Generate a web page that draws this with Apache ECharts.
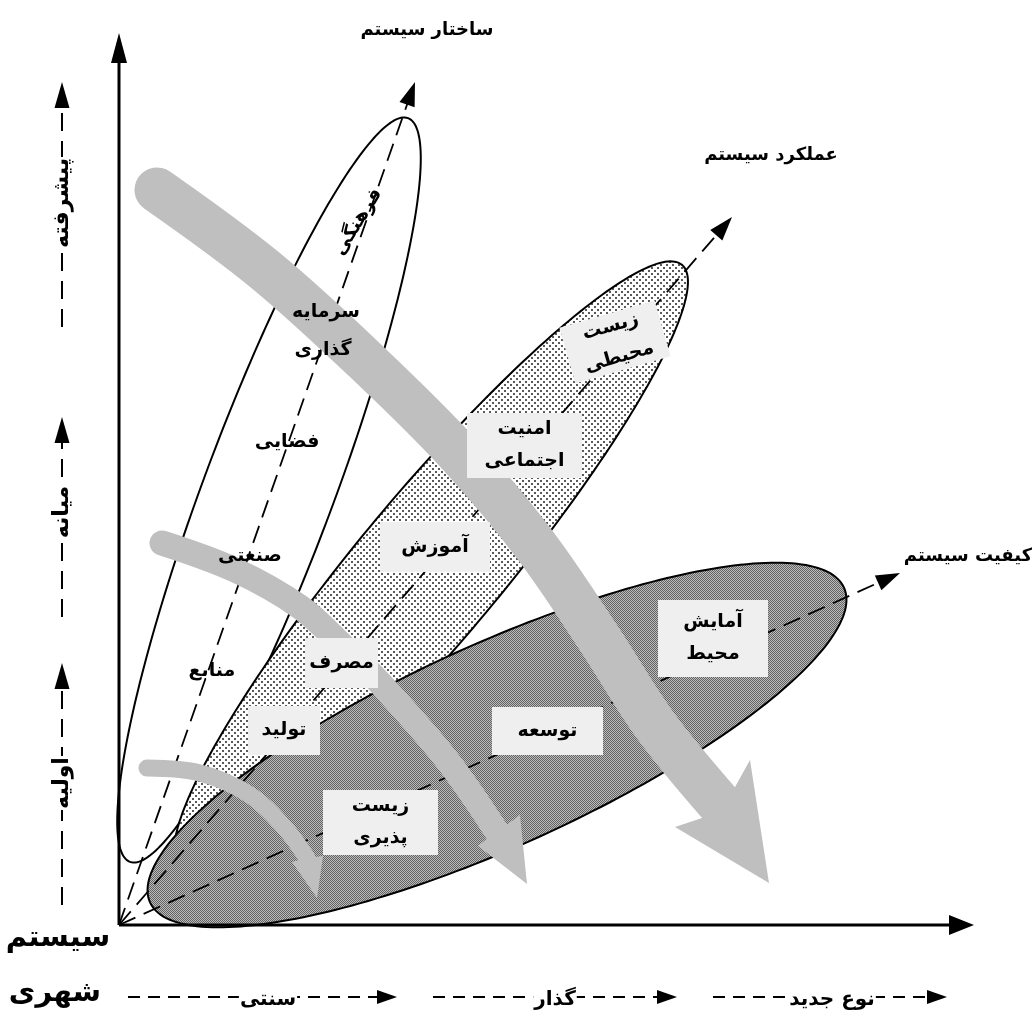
<!DOCTYPE html>
<html><head><meta charset="utf-8">
<script src="https://cdn.jsdelivr.net/npm/echarts@6/dist/echarts.min.js"></script>
<style>html,body{margin:0;padding:0;background:#fff}#c{width:1032px;height:1016px}</style>
</head><body><div id="c"></div>
<script>
// ---- DATA (u = units right of origin, v = units above origin) ----
const ellipseCenters = [[150,435],[312,359],[378,180]];
const ellipseSemiAxes = [[397,65],[392,72],[381,101]];
const ellipseAngles = [69.5,50.2,24.4];

const systemAxes = ['ساختار سیستم','عملکرد سیستم','کیفیت سیستم'];
const systemAxisTips = [[296,843],[613,708],[781,352]];
const systemAxisTitlePos = [[308,895],[652,770],[849,369]];

const mainAxisEnds = [[0,892],[855,0]];

const innerLabels = ['فرهنگی','سرمایه','گذاری','فضایی','صنعتی','منابع'];
const innerLabelPos = [[239,703],[207,613],[204,575],[168,483],[131,369],[93,254]];
const innerLabelRot = [58,0,0,0,0,0];

const boxLabels = ['زیست\nمحیطی','امنیت\nاجتماعی','آموزش','مصرف','تولید','زیست\nپذیری','توسعه','آمایش\nمحیط'];
const boxCenters = [[496,583],[405.5,479.5],[316,378],[222.5,262],[165,194.5],[261.5,102.5],[428.5,194],[594,286.5]];
const boxRot = [16,0,0,0,0,0,0,0];

const levelLabels = ['پیشرفته','میانه','اولیه'];
const levelTips = [843,508,262];
const levelEnds = [598,308,20];
const levelTextV = [722,413,142];
const levelU = -57;

const stageLabels = ['سنتی','گذار','نوع جدید'];
const stageStarts = [9,314,594];
const stageTips = [278,558,828];
const stageTextU = [149,436,713];
const stageV = -72;

const cornerLabels = ['سیستم','شهری'];
const cornerPos = [[-61,-13],[-64,-68]];

const flowPaths = [
  [[38,735],[146,655],[251,560],[341,470],[416,380],[481,285],[536,200],[599,123]],
  [[43,382],[116,355],[181,318],[226,277],[261,242],[328,165],[378,93]],
  [[28,157],[81,152],[131,130],[166,97],[188,67]]
];
const flowHeads = [
  [[583,107],[556,98],[650,42],[631,165],[616,138]],
  [[370,88],[359,79],[408,41],[401,110],[386,99]],
  [[180,65],[173,63],[198,27],[204,69],[196,68]]
];

// ---- LAYOUT / STYLE ----
const boxSizes = [[99,58],[115,65],[110,50],[73,50],[72,49],[115,65],[111,48],[110,77]];
const flowWidths = [45,25,17];
const FONT = '"DejaVu Sans", sans-serif';
const GRAY = '#bfbfbf';

function makeTile(w,h,draw){const c=document.createElement('canvas');c.width=w;c.height=h;draw(c.getContext('2d'));return c;}
const dotTile = makeTile(6,6,g=>{g.fillStyle='#fff';g.fillRect(0,0,6,6);g.fillStyle='#5a5a5a';g.fillRect(0,0,2,2);g.fillRect(3,3,2,2);});
const checkTile = makeTile(2,2,g=>{g.fillStyle='#626262';g.fillRect(0,0,2,2);g.fillStyle='#bcbcbc';g.fillRect(1,0,1,1);g.fillRect(0,1,1,1);});
const ellipseFills = ['#ffffff',{image:dotTile,repeat:'repeat'},{image:checkTile,repeat:'repeat'}];

function head(tip, base, len, hw){
  const dx=tip[0]-base[0], dy=tip[1]-base[1], L=Math.hypot(dx,dy);
  const ux=dx/L, uy=dy/L, bx=tip[0]-ux*len, by=tip[1]-uy*len;
  return [tip,[bx-uy*hw,by+ux*hw],[bx+uy*hw,by-ux*hw]];
}
function back(tip, from, len){
  const dx=tip[0]-from[0], dy=tip[1]-from[1], L=Math.hypot(dx,dy);
  return [tip[0]-dx/L*len, tip[1]-dy/L*len];
}
const rad = d=>d*Math.PI/180;
function txt(text, size, extra){
  return Object.assign({text:text, fill:'#000', fontSize:size, fontWeight:'bold', fontFamily:FONT, align:'center', verticalAlign:'middle'}, extra||{});
}

const chart = echarts.init(document.getElementById('c'));
const base = {type:'custom', coordinateSystem:'cartesian2d', silent:true, animation:false, clip:false};

chart.setOption({
  animation:false,
  grid:{left:0,right:0,top:0,bottom:0},
  xAxis:{type:'value',min:-119,max:913,show:false},
  yAxis:{type:'value',min:-91,max:925,show:false},
  series:[
    Object.assign({}, base, {z:1, data:ellipseCenters.map((c,i)=>[c[0],c[1],i]),
      renderItem(params, api){
        const i=params.dataIndex, c=ellipseCenters[i], ab=ellipseSemiAxes[i], t=rad(ellipseAngles[i]);
        const pts=[];
        for(let k=0;k<240;k++){const s=k/240*2*Math.PI, x=ab[0]*Math.cos(s), y=ab[1]*Math.sin(s);
          pts.push(api.coord([c[0]+x*Math.cos(t)-y*Math.sin(t), c[1]+x*Math.sin(t)+y*Math.cos(t)]));}
        return {type:'polygon', shape:{points:pts}, style:{fill:ellipseFills[i], stroke:'#000', lineWidth:2}};
      }}),
    Object.assign({}, base, {z:2, data:systemAxisTips.map((t,i)=>[t[0],t[1],i]),
      renderItem(params, api){
        const i=params.dataIndex, o=api.coord([0,0]), tip=api.coord(systemAxisTips[i]);
        const b=back(tip,o,22);
        return {type:'group', children:[
          {type:'line', shape:{x1:o[0],y1:o[1],x2:b[0],y2:b[1]}, style:{stroke:'#000',lineWidth:1.8,lineDash:[18,9]}},
          {type:'polygon', shape:{points:head(tip,o,24,8)}, style:{fill:'#000'}}
        ]};
      }}),
    Object.assign({}, base, {z:3, data:mainAxisEnds.map((e,i)=>[e[0],e[1],i]),
      renderItem(params, api){
        const i=params.dataIndex, o=api.coord([0,0]), tip=api.coord(mainAxisEnds[i]);
        const len=i===0?30:25, hw=i===0?8:10;
        const b=back(tip,o,len-2);
        return {type:'group', children:[
          {type:'line', shape:{x1:o[0],y1:o[1],x2:b[0],y2:b[1]}, style:{stroke:'#000',lineWidth:3}},
          {type:'polygon', shape:{points:head(tip,o,len,hw)}, style:{fill:'#000'}}
        ]};
      }}),
    Object.assign({}, base, {z:4, data:flowPaths.map((p,i)=>[p[0][0],p[0][1],i]),
      renderItem(params, api){
        const i=params.dataIndex;
        const pts=flowPaths[i].map(p=>api.coord(p));
        const hp=flowHeads[i].map(p=>api.coord(p));
        return {type:'group', children:[
          {type:'polyline', shape:{points:pts, smooth:0.35}, style:{stroke:GRAY,lineWidth:flowWidths[i],lineCap:'round',lineJoin:'round',fill:null}},
          {type:'polygon', shape:{points:hp}, style:{fill:GRAY}}
        ]};
      }}),
    Object.assign({}, base, {z:5, data:innerLabelPos.map((p,i)=>[p[0],p[1],i]),
      renderItem(params, api){
        const i=params.dataIndex, p=api.coord(innerLabelPos[i]);
        return {type:'text', x:p[0], y:p[1], rotation:rad(innerLabelRot[i]), style:txt(innerLabels[i],19)};
      }}),
    Object.assign({}, base, {z:6, data:boxCenters.map((p,i)=>[p[0],p[1],i]),
      renderItem(params, api){
        const i=params.dataIndex, p=api.coord(boxCenters[i]), s=boxSizes[i];
        return {type:'group', x:p[0], y:p[1], rotation:rad(boxRot[i]), children:[
          {type:'rect', shape:{x:-s[0]/2,y:-s[1]/2,width:s[0],height:s[1]}, style:{fill:'#efefef'}},
          {type:'text', x:0, y:0, style:txt(boxLabels[i],19,{lineHeight:32})}
        ]};
      }}),
    Object.assign({}, base, {z:6, data:systemAxisTitlePos.map((p,i)=>[p[0],p[1],i]),
      renderItem(params, api){
        const i=params.dataIndex, p=api.coord(systemAxisTitlePos[i]);
        return {type:'text', x:p[0], y:p[1], style:txt(systemAxes[i],18)};
      }}),
    Object.assign({}, base, {z:6, data:levelLabels.map((l,i)=>[levelU,levelTextV[i],i]),
      renderItem(params, api){
        const i=params.dataIndex, tip=api.coord([levelU,levelTips[i]]), end=api.coord([levelU,levelEnds[i]]), t=api.coord([levelU,levelTextV[i]]);
        const b=[tip[0],tip[1]+24];
        return {type:'group', children:[
          {type:'line', shape:{x1:end[0],y1:end[1],x2:b[0],y2:b[1]}, style:{stroke:'#000',lineWidth:2,lineDash:[18,10]}},
          {type:'polygon', shape:{points:head(tip,end,26,7.5)}, style:{fill:'#000'}},
          {type:'text', x:t[0], y:t[1], rotation:rad(90), style:txt(levelLabels[i],22,{backgroundColor:'#fff', padding:[0,1]})}
        ]};
      }}),
    Object.assign({}, base, {z:6, data:stageLabels.map((l,i)=>[stageTextU[i],stageV,i]),
      renderItem(params, api){
        const i=params.dataIndex, st=api.coord([stageStarts[i],stageV]), tip=api.coord([stageTips[i],stageV]), t=api.coord([stageTextU[i],stageV]);
        const b=[tip[0]-18,tip[1]];
        return {type:'group', children:[
          {type:'line', shape:{x1:st[0],y1:st[1],x2:b[0],y2:b[1]}, style:{stroke:'#000',lineWidth:2,lineDash:[12,8]}},
          {type:'polygon', shape:{points:head(tip,st,20,7)}, style:{fill:'#000'}},
          {type:'text', x:t[0], y:t[1]+3, style:txt(stageLabels[i],20,{backgroundColor:'#fff', padding:[0,1]})}
        ]};
      }}),
    Object.assign({}, base, {z:6, data:cornerPos.map((p,i)=>[p[0],p[1],i]),
      renderItem(params, api){
        const i=params.dataIndex, p=api.coord(cornerPos[i]);
        return {type:'text', x:p[0], y:p[1], style:txt(cornerLabels[i],29)};
      }})
  ]
});
</script></body></html>
